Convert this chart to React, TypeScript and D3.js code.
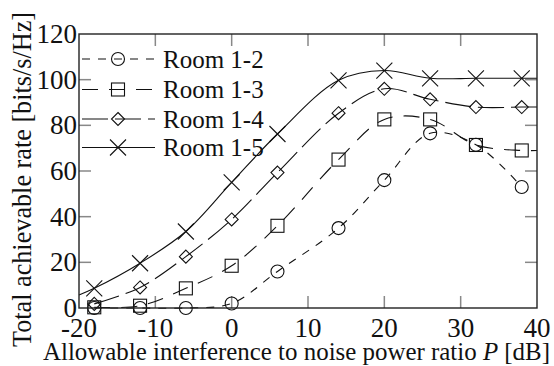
import React from 'react';
import * as d3 from 'd3';

// P [dB] where markers are placed
const pValues = [-18, -12, -6, 0, 6, 14, 20, 26, 32, 38];

const room12 = [0, 0, 0, 2, 16, 35, 56, 76.5, 71.5, 53];
const room13 = [0.3, 1, 8.6, 18.5, 36, 65, 82.6, 82.6, 71.4, 69];
const room14 = [1.8, 9, 22.5, 38.8, 59.3, 85.3, 96, 91.4, 88, 88];
const room15 = [8.6, 19.6, 33.5, 55, 76.2, 99.7, 104, 100.6, 100.6, 100.6];

// where the curves start / end beyond the markers
const lineStart = [null, null, null, [-20, 5.7]];
const lineEnd = [null, [40, 69], [40, 88], [40, 100.6]];

const seriesNames = ['Room 1-2', 'Room 1-3', 'Room 1-4', 'Room 1-5'];
const seriesValues = [room12, room13, room14, room15];
const markerTypes = ['circle', 'square', 'diamond', 'cross'];
const dashes = ['8,8', '16,11', '26,7', null];

const xTicks = [-20, -10, 0, 10, 20, 30, 40];
const yTicks = [0, 20, 40, 60, 80, 100, 120];

const W = 554;
const H = 366;
const margin = { top: 34, right: 17, bottom: 58, left: 79 };
const FONT = '"Liberation Serif", "Times New Roman", serif';

const Marker = ({ type, cx, cy }) => {
  const s = 6.5;
  if (type === 'circle') return <circle cx={cx} cy={cy} r={s} fill="none" stroke="#111" strokeWidth={1.1} />;
  if (type === 'square') return <rect x={cx - s} y={cy - s} width={2 * s} height={2 * s} fill="none" stroke="#111" strokeWidth={1.1} />;
  if (type === 'diamond')
    return <path d={`M${cx},${cy - s}L${cx + s},${cy}L${cx},${cy + s}L${cx - s},${cy}Z`} fill="none" stroke="#111" strokeWidth={1.1} />;
  const c = 8;
  return <path d={`M${cx - c},${cy - c}L${cx + c},${cy + c}M${cx - c},${cy + c}L${cx + c},${cy - c}`} stroke="#111" strokeWidth={1.1} />;
};

export default function App() {
  const width = W - margin.left - margin.right;
  const height = H - margin.top - margin.bottom;

  const x = d3.scaleLinear().domain([-20, 40]).range([0, width]);
  const y = d3.scaleLinear().domain([0, 120]).range([height, 0]);

  const line = d3
    .line()
    .x(d => x(d[0]))
    .y(d => y(d[1]))
    .curve(d3.curveCatmullRom.alpha(0.5));

  const tickLen = 12;
  const legendY = [59, 89.5, 119, 147.5];

  return (
    <svg width={W} height={H} style={{ position: 'absolute', left: 0, top: 0, background: '#fff' }}>
      <g transform={`translate(${margin.left},${margin.top})`}>
        {/* ticks (inward) */}
        {xTicks.slice(1, -1).map(t => (
          <g key={'xt' + t} stroke="#888" strokeWidth={1.5}>
            <line x1={x(t)} x2={x(t)} y1={height} y2={height - tickLen} />
            <line x1={x(t)} x2={x(t)} y1={0} y2={tickLen} />
          </g>
        ))}
        {yTicks.slice(1, -1).map(t => (
          <g key={'yt' + t} stroke="#888" strokeWidth={1.5}>
            <line x1={0} x2={tickLen} y1={y(t)} y2={y(t)} />
            <line x1={width} x2={width - tickLen} y1={y(t)} y2={y(t)} />
          </g>
        ))}

        {/* series */}
        {seriesValues.map((vals, i) => {
          const pts = pValues.map((p, j) => [p, vals[j]]);
          if (lineStart[i]) pts.unshift(lineStart[i]);
          if (lineEnd[i]) pts.push(lineEnd[i]);
          return (
            <g key={seriesNames[i]}>
              <path d={line(pts)} fill="none" stroke="#111" strokeWidth={1.1} strokeDasharray={dashes[i] || undefined} />
              {pValues.map((p, j) => (
                <Marker key={j} type={markerTypes[i]} cx={x(p)} cy={y(vals[j])} />
              ))}
            </g>
          );
        })}

        {/* frame */}
        <rect x={0} y={0} width={width} height={height} fill="none" stroke="#222" strokeWidth={1.4} />

        {/* tick labels */}
        {xTicks.map(t => (
          <text key={'xl' + t} x={x(t)} y={height + 29} textAnchor="middle" fontFamily={FONT} fontSize={27} fill="#111">
            {t < 0 ? '-' + Math.abs(t) : t}
          </text>
        ))}
        {yTicks.map(t => (
          <text key={'yl' + t} x={-2} y={y(t) + 9} textAnchor="end" fontFamily={FONT} fontSize={27} fill="#111">
            {t}
          </text>
        ))}

        {/* legend */}
        {seriesNames.map((name, i) => (
          <g key={'lg' + name}>
            <line x1={3} x2={76} y1={legendY[i] - margin.top} y2={legendY[i] - margin.top} stroke="#111" strokeWidth={1.1} strokeDasharray={dashes[i] || undefined} />
            <Marker type={markerTypes[i]} cx={39} cy={legendY[i] - margin.top} />
            <text x={84} y={legendY[i] - margin.top + 8.5} fontFamily={FONT} fontSize={25} fill="#111">
              {name}
            </text>
          </g>
        ))}
      </g>

      {/* axis titles */}
      <text x={43} y={360} textLength={507} lengthAdjust="spacingAndGlyphs" fontFamily={FONT} fontSize={26} fill="#111">
        Allowable interference to noise power ratio <tspan fontStyle="italic">P</tspan> [dB]
      </text>
      <text transform="translate(31,347) rotate(-90)" textLength={335} lengthAdjust="spacingAndGlyphs" fontFamily={FONT} fontSize={27} fill="#111">
        Total achievable rate [bits/s/Hz]
      </text>
    </svg>
  );
}
